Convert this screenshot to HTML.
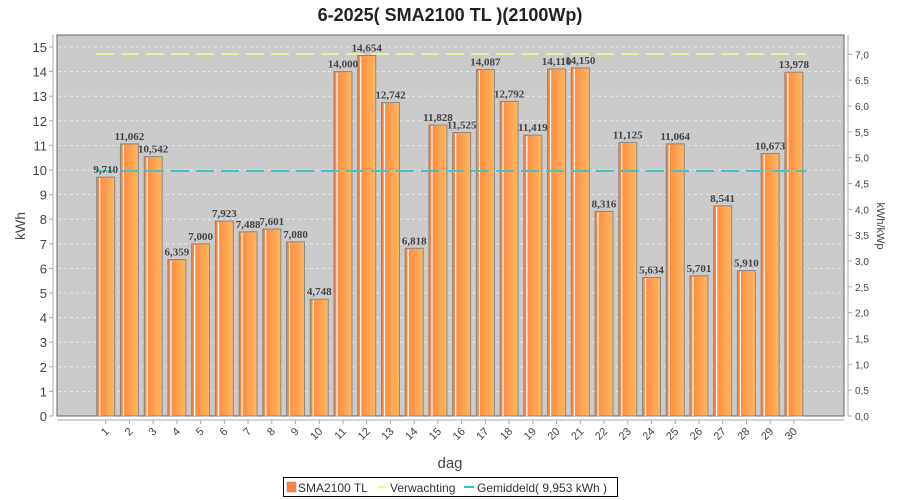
<!DOCTYPE html>
<html><head><meta charset="utf-8"><style>
body{margin:0;background:#fff;width:900px;height:500px;overflow:hidden}
svg{display:block}
text{font-family:"Liberation Sans",sans-serif}
text.v{font-family:"Liberation Serif",serif}
</style></head><body>
<svg id="c" width="900" height="500" xmlns="http://www.w3.org/2000/svg">
<defs>
<linearGradient id="g" x1="0" x2="1" y1="0" y2="0">
<stop offset="0" stop-color="#ff7a30"/><stop offset="0.12" stop-color="#ff8a40"/><stop offset="1" stop-color="#ffb860"/>
</linearGradient>
</defs>
<text x="450" y="21" text-anchor="middle" font-size="18" font-weight="bold" fill="#222">6-2025( SMA2100 TL )(2100Wp)</text>
<rect x="57" y="35" width="787" height="381" fill="#cbcbcb" stroke="#666" stroke-width="1"/>
<g id="grid"></g>
<g id="bars"></g>
<line x1="96" y1="54" x2="806" y2="54" stroke="#eeee99" stroke-width="2" stroke-dasharray="18,7"/>
<line x1="96" y1="171" x2="806" y2="171" stroke="#44c4c4" stroke-width="2" stroke-dasharray="18,7"/>
<g id="labels"></g>
<line x1="53" y1="35" x2="53" y2="416" stroke="#aaa"/>
<line x1="848" y1="35" x2="848" y2="416" stroke="#aaa"/>
<line x1="57" y1="420" x2="844" y2="420" stroke="#aaa"/>
<text transform="translate(25,226) rotate(-90)" text-anchor="middle" font-size="14" fill="#444">kWh</text>
<text transform="translate(877,226) rotate(90)" text-anchor="middle" font-size="11" fill="#444">kWh/kWp</text>
<text x="450" y="468" text-anchor="middle" font-size="15" fill="#444">dag</text>
<rect x="283.5" y="477.5" width="334" height="19" fill="#fff" stroke="#000"/>
<rect x="287" y="482" width="9" height="10" fill="#ff8040" stroke="#888" stroke-width="0.5"/>
<text x="298" y="492" font-size="12" fill="#333">SMA2100 TL</text>
<line x1="378" y1="487" x2="386" y2="487" stroke="#ffff66" stroke-width="2"/>
<text x="390" y="492" font-size="12" fill="#333">Verwachting</text>
<line x1="464" y1="487" x2="474" y2="487" stroke="#22cccc" stroke-width="2"/>
<text x="477" y="492" font-size="12" fill="#333">Gemiddeld( 9,953 kWh )</text>
</svg>
<script>
var v=[9.710,11.062,10.542,6.359,7.000,7.923,7.488,7.601,7.080,4.748,14.000,14.654,12.742,6.818,11.828,11.525,14.087,12.792,11.419,14.110,14.150,8.316,11.125,5.634,11.064,5.701,8.541,5.910,10.673,13.978];
var ns="http://www.w3.org/2000/svg";
function el(t,a,p,txt){var e=document.createElementNS(ns,t);for(var k in a)e.setAttribute(k,a[k]);if(txt!=null)e.textContent=txt;document.getElementById(p).appendChild(e);return e;}
var y0=416,s=24.6;
for(var i=0;i<=15;i++){var y=y0-i*s;
 if(i>0)el("line",{x1:58,x2:843,y1:y,y2:y,stroke:"#eee","stroke-dasharray":"3,3","stroke-width":0.8},"grid");
 el("text",{x:47,y:y+5,"text-anchor":"end","font-size":13,fill:"#444"},"grid",i);
 el("line",{x1:49,x2:53,y1:y,y2:y,stroke:"#aaa"},"grid");}
for(var j=0;j<=14;j++){var r=j*0.5,y=y0-r*2.1*s;
 el("line",{x1:848,x2:852,y1:y,y2:y,stroke:"#aaa"},"grid");
 el("text",{x:855,y:y+4,"font-size":10,fill:"#444"},"grid",r.toFixed(1).replace(".",","));}
for(var i=0;i<30;i++){var cx=105.7+i*23.73,h=v[i]*s,x=cx-9;
 el("rect",{x:x,y:y0-h,width:18,height:h,fill:"url(#g)",stroke:"#888","stroke-width":1},"bars");
 el("line",{x1:x+3,x2:x+3,y1:y0-h+1,y2:y0,stroke:"#fff","stroke-width":1.2},"bars");
 el("line",{x1:cx,x2:cx,y1:420,y2:424,stroke:"#aaa"},"bars");
 el("text",{transform:"translate("+(cx+4)+",432) rotate(-45)","text-anchor":"end","font-size":11,fill:"#444"},"bars",i+1);
 el("text",{"class":"v",x:cx,y:y0-h-4,"text-anchor":"middle","font-size":11,"font-weight":"bold",fill:"#444"},"labels",v[i].toFixed(3).replace(".",","));}
</script>
</body></html>
